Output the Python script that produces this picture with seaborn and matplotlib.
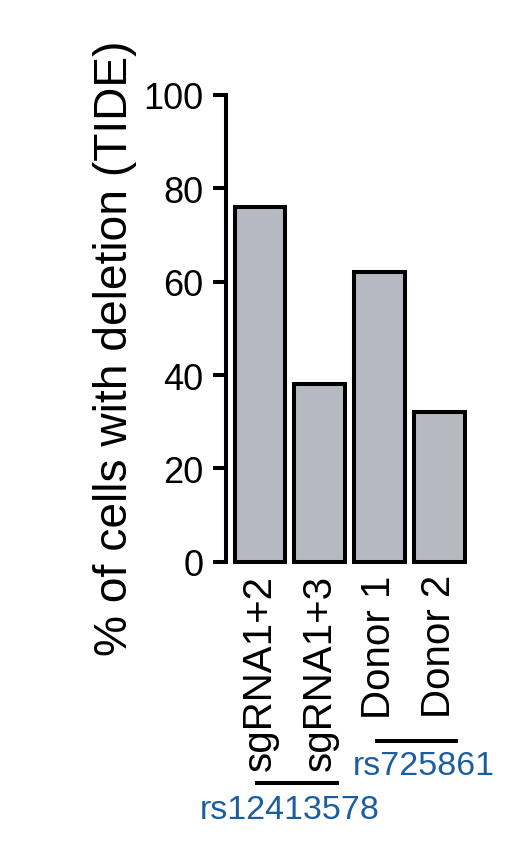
import numpy as np
import pandas as pd
import matplotlib
matplotlib.use("Agg")
import matplotlib.pyplot as plt
import seaborn as sns

# ── Data ────────────────────────────────────
samples = ["sgRNA1+2", "sgRNA1+3", "Donor 1", "Donor 2"]
deletion_pct = [76, 38, 62, 32]
groups = ["rs12413578", "rs725861"]
group_members = [(0, 1), (2, 3)]

sns.set_style("white")
plt.rcParams.update({
    "font.family": ["Liberation Sans", "DejaVu Sans"],
    "text.color": "black",
    "axes.labelcolor": "black",
    "xtick.color": "black",
    "ytick.color": "black",
})

BAR_COLOR = "#b7b9c1"
BLUE = "#1b5e9f"
LW = 2.9

df = pd.DataFrame({"sample": samples, "pct": deletion_pct})

fig = plt.figure(figsize=(5.11, 8.45), dpi=100)
ax = fig.add_axes([0.4423, 0.3341, 0.4755, 0.5523])

sns.barplot(data=df, x="sample", y="pct", color=BAR_COLOR, saturation=1,
            edgecolor="black", linewidth=LW, width=0.85, ax=ax)
for p in ax.patches:
    p.set_clip_on(False)

ax.set_ylim(0, 100)
ax.set_xlim(-0.57, 3.5)
ax.set_yticks([0, 20, 40, 60, 80, 100])
ax.tick_params(axis="y", direction="out", length=9.4, width=LW, pad=7,
               labelsize=26, left=True)
ax.tick_params(axis="x", length=0, pad=9, labelsize=29)
plt.setp(ax.get_xticklabels(), rotation=90, va="top", ha="center")

sns.despine(ax=ax, bottom=True)
ax.spines["left"].set_linewidth(LW)
ax.spines["left"].set_color("black")
ax.set_xlabel("")
ax.set_ylabel("")

fig.text(115 / 511, 1 - 348 / 845, "% of cells with deletion (TIDE)",
         rotation=90, ha="center", va="center", fontsize=33.2)

# group brackets under the labels
line_y = [-47.4, -38.4]
text_y = [-53.0, -43.6]
text_shift = [0.0, 0.25]
for name, (a, b), ly, ty, dx in zip(groups, group_members, line_y, text_y, text_shift):
    ax.plot([a - 0.08, b + 0.32], [ly, ly], color="black", lw=LW,
            clip_on=False, solid_capstyle="butt")
    ax.text((a + b) / 2 + dx, ty, name, color=BLUE, fontsize=24.5,
            ha="center", va="center", clip_on=False)

fig.savefig("out.png", dpi=100)
